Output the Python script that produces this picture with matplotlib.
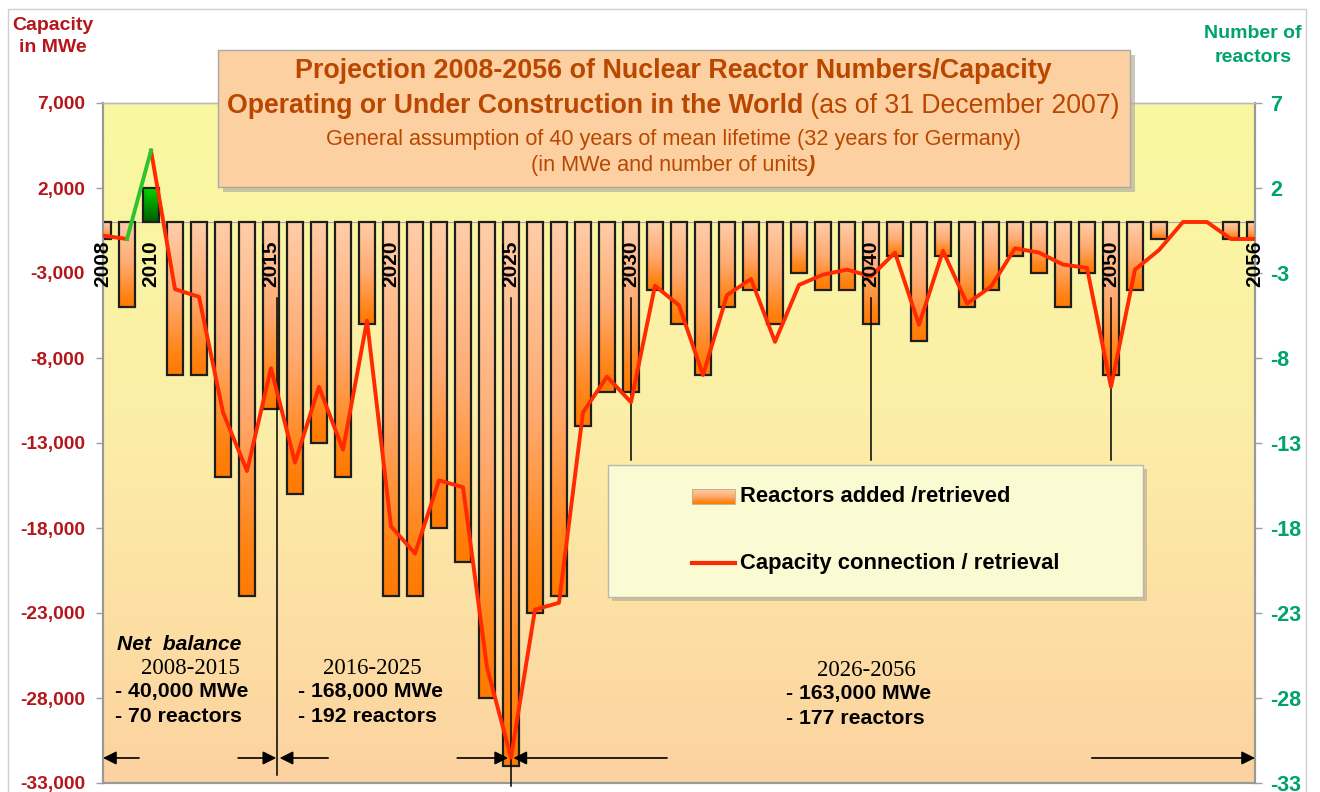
import numpy as np
import matplotlib
matplotlib.use("Agg")
import matplotlib.pyplot as plt
from matplotlib.colors import LinearSegmentedColormap
from matplotlib.patches import Rectangle

plt.rcParams['font.family'] = ['Liberation Sans', 'DejaVu Sans']

# ---------------- data ----------------
years = list(range(2008, 2057))
reactors = [-1, -5, 2, -9, -9, -15, -22, -11, -16, -13,
            -15, -6, -22, -22, -18, -20, -28, -32, -23, -22,
            -12, -10, -10, -4, -6, -9, -5, -4, -6, -3,
            -4, -4, -6, -2, -7, -2, -5, -4, -2, -3,
            -5, -3, -9, -4, -1, 0, 0, -1, -1]
capacity_mwe = [-800, -1000, 4200, -3950, -4400, -11200, -14650, -8600, -14150, -9700,
                -13400, -5800, -17900, -19500, -15200, -15600, -26200, -31500, -22800, -22400,
                -11200, -9100, -10600, -3750, -4900, -9000, -4300, -3350, -7050, -3700,
                -3100, -2800, -3200, -1800, -6050, -1700, -4800, -3800, -1550, -1800,
                -2500, -2700, -9700, -2800, -1650, 0, 0, -1000, -1000]
label_years = [2008, 2010, 2015, 2020, 2025, 2030, 2040, 2050, 2056]
cap_ticks = list(range(-33000, 7001, 5000))
num_ticks = list(range(-33, 8, 5))

period_names = ["2008-2015", "2016-2025", "2026-2056"]
period_mwe = ["- 40,000 MWe", "- 168,000 MWe", "- 163,000 MWe"]
period_units = ["- 70 reactors", "- 192 reactors", "- 177 reactors"]

# ---------------- styles ----------------
DARKRED = '#B3161B'
GREEN_TXT = '#00A36C'
TITLE_C = '#B94700'
RED_LINE = '#FF2A00'
GREEN_LINE = '#2EC42E'

W, H = 1320, 792
fig = plt.figure(figsize=(W / 100, H / 100), dpi=100)
fig.patch.set_facecolor('white')

L, R, T, B = 103, 1255, 103, 783
ax = fig.add_axes([L / W, 1 - B / H, (R - L) / W, (B - T) / H])
ax2 = ax.twinx()
ax.set_zorder(ax2.get_zorder() + 1)
ax.patch.set_visible(False)

grad = np.linspace(0, 1, 256).reshape(-1, 1)

# background gradient of plot area
bg_cmap = LinearSegmentedColormap.from_list('bg', ['#F9F9A0', '#FCEDA8', '#FDD2A0'])
ax2.imshow(grad, cmap=bg_cmap, origin='upper', extent=[2008, 2056, -33, 7],
           aspect='auto', zorder=0, interpolation='bilinear')

# bars with per-bar gradient
bar_cmap = LinearSegmentedColormap.from_list(
    'bar', [(0, '#FFCDA8'), (0.5, '#FFAA70'), (0.85, '#FF8518'), (1, '#FF7A00')])
green_cmap = LinearSegmentedColormap.from_list('gbar', ['#00D400', '#005A00'])
bw = 0.67
bars = ax2.bar(years, reactors, width=bw, facecolor='none', edgecolor='#1E1E1E',
               linewidth=1.6, zorder=3)
for rect, v in zip(bars, reactors):
    if v == 0:
        rect.set_linewidth(0)
        continue
    x0 = rect.get_x()
    x1 = x0 + rect.get_width()
    cm = green_cmap if v > 0 else bar_cmap
    top, bot = max(v, 0), min(v, 0)
    ax2.imshow(grad, cmap=cm, origin='upper', extent=[x0, x1, bot, top],
               aspect='auto', zorder=2, interpolation='bilinear')

ax2.axhline(0, color='#A8A8A8', lw=0.8, zorder=1)

# capacity line
ax.plot(years[:2], capacity_mwe[:2], color=RED_LINE, lw=2.8, zorder=6, solid_joinstyle='round')
ax.plot(years[2:], capacity_mwe[2:], color=RED_LINE, lw=2.8, zorder=6, solid_joinstyle='round')
ax.plot(years[1:3], capacity_mwe[1:3], color=GREEN_LINE, lw=2.8, zorder=6, solid_joinstyle='round')

# limits
ax.set_xlim(2008, 2056)
ax2.set_xlim(2008, 2056)
ax.set_ylim(-33000, 7000)
ax2.set_ylim(-33, 7)

# ticks
ax.set_xticks([])
ax2.set_xticks([])
ax.set_yticks(cap_ticks, labels=[f'{t:,}' for t in cap_ticks], fontweight='bold', fontsize=13.8)
ax2.set_yticks(num_ticks, labels=[str(t) for t in num_ticks], fontweight='bold', fontsize=15.5)
ax.tick_params(axis='y', labelcolor=DARKRED, color='#A0A0A0', length=5, width=1, pad=8)
ax2.tick_params(axis='y', labelcolor=GREEN_TXT, color='#A0A0A0', length=5, width=1, pad=6)

for a in (ax, ax2):
    for s in a.spines.values():
        s.set_color('#999999')
        s.set_linewidth(1.5)
    a.spines['top'].set_linewidth(1.0)
    a.spines['top'].set_color('#BBBBBB')

xt = ax.get_xaxis_transform()

# year labels inside plot
for yl in label_years:
    ax.text(yl, 0.763, str(yl), transform=xt, rotation=90, ha='center', va='center',
            fontsize=15, fontweight='bold', color='black', zorder=8, clip_on=False)

# vertical marker lines
ax.axvline(2015.27, ymin=0.012, ymax=0.713, color='black', lw=1.1, zorder=5)
ax.plot([2025, 2025], [-0.005, 0.713], transform=xt, color='black', lw=1.1, zorder=5, clip_on=False)
for yv in (2030, 2040, 2050):
    ax.axvline(yv, ymin=0.475, ymax=0.713, color='black', lw=1.1, zorder=5)

# period arrows
ay = 0.0368
aprops = dict(arrowstyle='-|>', color='black', lw=1.2, mutation_scale=20, shrinkA=0, shrinkB=0)
for tip, tail in [(2008.0, 2009.5), (2015.22, 2013.63), (2015.36, 2017.38),
                  (2024.88, 2022.76), (2025.1, 2031.5), (2056.0, 2049.2)]:
    ax.annotate('', xy=(tip, ay), xytext=(tail, ay), xycoords=xt, textcoords=xt,
                arrowprops=aprops, zorder=7, annotation_clip=False)

# ---------------- overlay (pixel coordinates) ----------------
ov = fig.add_axes([0, 0, 1, 1], zorder=10)
ov.patch.set_visible(False)
ov.axis('off')

ov.add_patch(Rectangle((8, 9), 1298, 800, fill=False, ec='#CFCFCF', lw=1))

# axis titles
ov.text(53, 25, 'Capacity', ha='center', va='center', color=DARKRED, fontsize=14, fontweight='bold')
ov.text(53, 48, 'in MWe', ha='center', va='center', color=DARKRED, fontsize=14, fontweight='bold')
ov.text(1253, 34, 'Number of', ha='center', va='center', color=GREEN_TXT, fontsize=14, fontweight='bold')
ov.text(1253, 58, 'reactors', ha='center', va='center', color=GREEN_TXT, fontsize=14, fontweight='bold')

# title box
ov.add_patch(Rectangle((223, 55), 912, 137, fc='#B8B0A0', ec='none', alpha=0.7))
ov.add_patch(Rectangle((218, 50), 912, 137, fc='#FDD0A2', ec='#A8A8A8', lw=1))
cx = 673
ov.text(cx, 71, 'Projection 2008-2056 of Nuclear Reactor Numbers/Capacity', ha='center', va='center',
        color=TITLE_C, fontsize=19.4, fontweight='bold')
ov.text(cx, 139, 'General assumption of 40 years of mean lifetime (32 years for Germany)', ha='center',
        va='center', color=TITLE_C, fontsize=15.6)

renderer = fig.canvas.get_renderer()


def mixed_line(parts, y, xc):
    objs = []
    for txt, kw in parts:
        objs.append(ov.text(0, y, txt, ha='left', va='center', color=TITLE_C, **kw))
    ov.set_xlim(0, W)
    ov.set_ylim(H, 0)
    widths = [o.get_window_extent(renderer=renderer).width for o in objs]
    x = xc - sum(widths) / 2
    for o, w in zip(objs, widths):
        o.set_x(x)
        x += w


ov.set_xlim(0, W)
ov.set_ylim(H, 0)
mixed_line([('Operating or Under Construction in the World', dict(fontsize=19.2, fontweight='bold')),
            (' (as of 31 December 2007)', dict(fontsize=19.2))], 106, cx)
mixed_line([('(in MWe and number of units', dict(fontsize=15.6)),
            (')', dict(fontsize=15.6, fontweight='bold', fontstyle='italic'))], 166, cx)

# legend box
ov.add_patch(Rectangle((612, 469), 535, 132, fc='#C8B592', ec='none', alpha=0.8))
ov.add_patch(Rectangle((608, 465), 535, 132, fc='#FBFBD3', ec='#B8B8B8', lw=1))
ov.imshow(grad, cmap=bar_cmap, origin='upper', extent=[692, 735, 504, 489], aspect='auto',
          zorder=3, interpolation='bilinear')
ov.add_patch(Rectangle((692, 489), 43, 15, fill=False, ec='#C0A890', lw=0.6, zorder=4))
ov.plot([692, 735], [563, 563], color=RED_LINE, lw=3, zorder=4)
ov.text(740, 497, 'Reactors added /retrieved', va='center', ha='left', fontsize=15.8,
        fontweight='bold', color='black')
ov.text(740, 563, 'Capacity connection / retrieval', va='center', ha='left', fontsize=15.8,
        fontweight='bold', color='black')

# net balance texts
ov.text(117, 644, 'Net  balance', ha='left', va='center', fontsize=15.2, fontweight='bold',
        fontstyle='italic', color='black')
name_x = [190, 372, 866]
left_x = [115, 298, 786]
name_y = [668, 668, 670]
for i in range(3):
    ov.text(name_x[i], name_y[i], period_names[i], ha='center', va='center', fontsize=16.5,
            family='Liberation Serif', color='black')
    ov.text(left_x[i], name_y[i] + 24, period_mwe[i], ha='left', va='center', fontsize=15.3,
            fontweight='bold', color='black')
    ov.text(left_x[i], name_y[i] + 48, period_units[i], ha='left', va='center', fontsize=15.3,
            fontweight='bold', color='black')

ov.set_xlim(0, W)
ov.set_ylim(H, 0)

fig.savefig('out.png', dpi=100)
